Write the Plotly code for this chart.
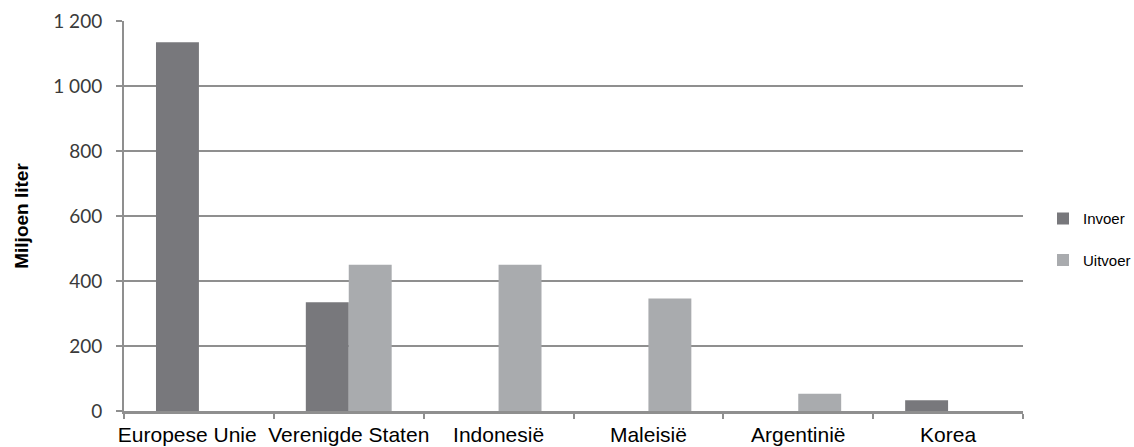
import plotly.graph_objects as go

# Regions and volumes (million litres)
landen = ["Europese Unie", "Verenigde Staten", "Indonesië", "Maleisië", "Argentinië", "Korea"]
invoer = [1135, 335, None, None, None, 33]
uitvoer = [None, 450, 450, 346, 53, None]
y_ticks = [0, 200, 400, 600, 800, 1000, 1200]

# First category label is nudged left (trailing non-breaking spaces) so it
# does not run into its long neighbour.
x_labels = [landen[0] + "\u00a0" * 4] + landen[1:]

kleur_invoer = "#78787c"
kleur_uitvoer = "#a9abae"
lijn_grijs = "#8f8f8f"

fig = go.Figure()
fig.add_trace(go.Bar(x=landen, y=invoer, name="Invoer", marker_color=kleur_invoer,
                     marker_line_width=0, legendgroup="a"))
fig.add_trace(go.Bar(x=landen, y=uitvoer, name="Uitvoer", marker_color=kleur_uitvoer,
                     marker_line_width=0, legendgroup="b"))

fig.update_layout(
    width=1134,
    height=447,
    margin=dict(l=124, r=111, t=21, b=36, autoexpand=False),
    paper_bgcolor="white",
    plot_bgcolor="white",
    barmode="group",
    bargap=0.427,
    bargroupgap=0,
    separators=", ",
    font=dict(family="Liberation Sans, Arial, sans-serif", color="black"),
    legend=dict(
        xref="container", x=1043 / 1134, xanchor="left",
        y=0.535, yanchor="top",
        font=dict(size=15, family="Liberation Sans, Arial, sans-serif"),
        tracegroupgap=19,
        bgcolor="rgba(0,0,0,0)",
    ),
    showlegend=True,
)

fig.update_xaxes(
    automargin=False,
    tickangle=0,
    tickmode="array",
    tickvals=landen,
    ticktext=x_labels,
    showline=True, linecolor=lijn_grijs, linewidth=3,
    ticks="outside", tickson="boundaries", ticklen=5, tickcolor=lijn_grijs, tickwidth=2,
    tickfont=dict(size=21, color="black", family="Liberation Sans, Arial, sans-serif"),
    ticklabelstandoff=3,
    showgrid=False, zeroline=False,
)

fig.update_yaxes(
    automargin=False,
    range=[0, 1200],
    tickvals=y_ticks,
    tickformat=",d",
    showline=True, linecolor=lijn_grijs, linewidth=2,
    ticks="outside", ticklen=6, tickcolor=lijn_grijs, tickwidth=2,
    showgrid=True, gridcolor=lijn_grijs, gridwidth=2,
    zeroline=False,
    tickfont=dict(size=19, color="#3a3a3a", family="Lato, Open Sans, sans-serif"),
    ticklabelstandoff=10,
    title=dict(text="<b>Miljoen liter</b>", standoff=20,
               font=dict(size=19, color="black", family="Liberation Sans, Arial, sans-serif")),
)

fig.write_html("out.html")
